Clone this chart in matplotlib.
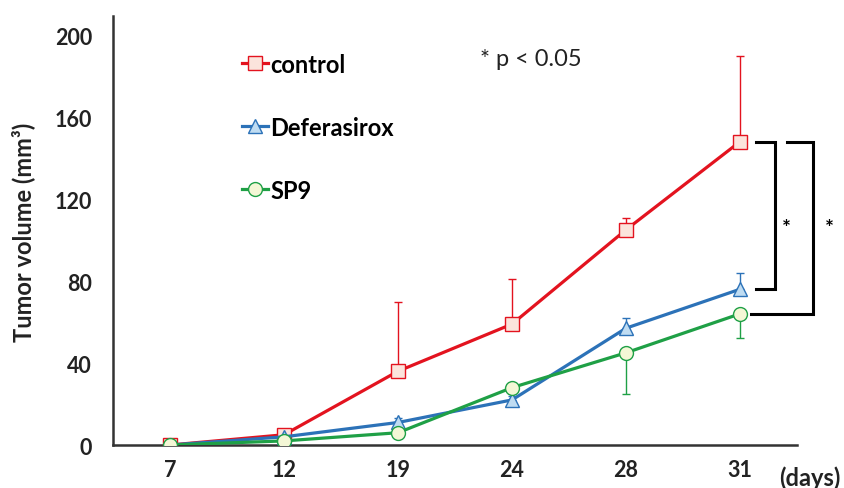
import matplotlib
matplotlib.use("Agg")
import matplotlib.pyplot as plt
import numpy as np

# ── Data ──────────────────────────────────────────────────────────────────────
days = ["7", "12", "19", "24", "28", "31"]

control     = [0, 5, 36, 59, 105, 148]
control_err = [0, 2, 34, 22, 6, 42]        # upper bars only

deferasirox     = [0, 4, 11, 22, 57, 76]
deferasirox_err = [0, 1, 2, 2, 5, 8]       # upper bars only

sp9     = [0, 2, 6, 28, 45, 64]
sp9_err = [0, 1, 1, 2, 20, 12]             # lower bars only

yticks = [0, 40, 80, 120, 160, 200]

# ── Style ─────────────────────────────────────────────────────────────────────
RED   = "#e3131f"
BLUE  = "#2c72b8"
GREEN = "#1fa046"
TXT   = "#222222"
FONT  = ["Lato", "DejaVu Sans"]

plt.rcParams["font.family"] = FONT

fig = plt.figure(figsize=(8.44, 4.89), dpi=100)
ax = fig.add_axes([0.1339, 0.0879, 0.8104, 0.8773])

x = np.arange(len(days))
zeros = [0] * len(days)

series = [
    ("control",     control,     control_err,     RED,   "s", "#fbe4dc", True),
    ("Deferasirox", deferasirox, deferasirox_err, BLUE,  "^", "#bfdcf2", True),
    ("SP9",         sp9,         sp9_err,         GREEN, "o", "#f4f7d6", False),
]

handles = []
for name, vals, err, col, mk, fc, upper in series:
    yerr = [zeros, err] if upper else [err, zeros]
    ax.errorbar(x, vals, yerr=yerr, fmt="none", ecolor=col, elinewidth=1.0,
                capsize=3, capthick=1.0, zorder=2)
    h, = ax.plot(x, vals, color=col, lw=2.3, marker=mk, markersize=10,
                 markerfacecolor=fc, markeredgecolor=col, markeredgewidth=1.0,
                 zorder=3, label=name)
    handles.append(h)

ax.set_xlim(-0.5, 5.5)
ax.set_ylim(0, 209.3)
ax.set_xticks(x)
ax.set_xticklabels(days)
ax.set_yticks(yticks)
ax.tick_params(length=0, labelsize=15.5, colors=TXT)
ax.tick_params(axis="x", pad=10)
ax.tick_params(axis="y", pad=15)
for lab in ax.get_xticklabels() + ax.get_yticklabels():
    lab.set_fontweight("bold")

for side in ("top", "right"):
    ax.spines[side].set_visible(False)
for side in ("left", "bottom"):
    ax.spines[side].set_color("#333333")
    ax.spines[side].set_linewidth(1.8)

fig.text(23 / 844, 1 - 232 / 489, "Tumor volume (mm³)", rotation=90,
         fontsize=17, fontweight="bold", ha="center", va="center", color=TXT)

ax.text(0.9737, -0.0746, "(days)", transform=ax.transAxes, fontsize=17,
        fontweight="bold", ha="left", va="center", color=TXT)

# ── Legend ────────────────────────────────────────────────────────────────
ax.legend(handles=handles, loc="center left",
          bbox_to_anchor=(0.157, 0.741), frameon=False,
          handlelength=1.1, handletextpad=0.12, labelspacing=1.69,
          prop={"family": FONT, "weight": "bold", "size": 17})

ax.text(0.5365, 0.90, "* p < 0.05", transform=ax.transAxes, fontsize=17,
        ha="left", va="center", color=TXT)

# ── Significance brackets ─────────────────────────────────────────────────
bk = dict(color="black", lw=2.2, clip_on=False, solid_joinstyle="miter")
ax.plot([5.14, 5.31, 5.31, 5.14], [control[-1], control[-1],
        deferasirox[-1], deferasirox[-1]], **bk)
ax.plot([5.41, 5.64, 5.64, 5.10], [control[-1], control[-1],
        sp9[-1], sp9[-1]], **bk)
mid = (control[-1] + deferasirox[-1]) / 2
for xs in (5.41, 5.78):
    ax.text(xs, mid - 6, "*", fontsize=15, fontweight="bold",
            ha="center", va="center", clip_on=False)

plt.savefig("out.png", dpi=100)
plt.close(fig)
